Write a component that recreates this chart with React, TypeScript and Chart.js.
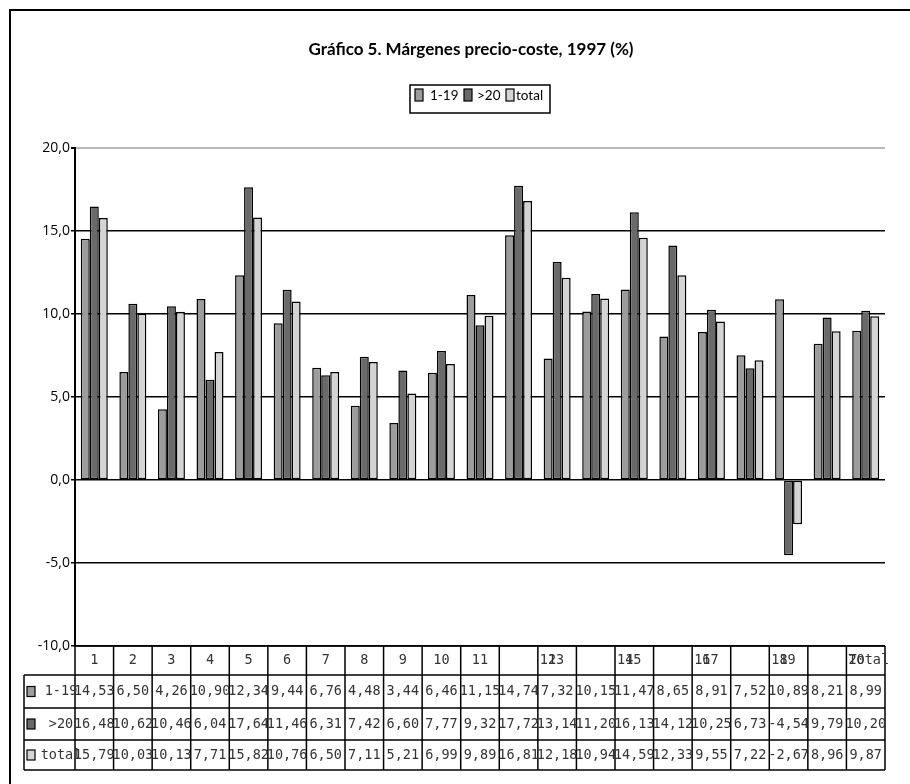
import React, { useEffect, useRef } from "react";
import { Chart, registerables } from "chart.js";

Chart.register(...registerables);

const categories = ["1","2","3","4","5","6","7","8","9","10","11","12","13","14","15","16","17","18","19","20","Total"];
const headerLabels: string[][] = [["1"],["2"],["3"],["4"],["5"],["6"],["7"],["8"],["9"],["10"],["11"],[],["12","13"],[],["14","15"],[],["16","17"],[],["18","19"],[],["20","Total"]];
const seriesNames = ["1-19", ">20", "total"];
const small = [14.53, 6.50, 4.26, 10.90, 12.34, 9.44, 6.76, 4.48, 3.44, 6.46, 11.15, 14.74, 7.32, 10.15, 11.47, 8.65, 8.91, 7.52, 10.89, 8.21, 8.99];
const large = [16.48, 10.62, 10.46, 6.04, 17.64, 11.46, 6.31, 7.42, 6.60, 7.77, 9.32, 17.72, 13.14, 11.20, 16.13, 14.12, 10.25, 6.73, -4.54, 9.79, 10.20];
const total = [15.79, 10.03, 10.13, 7.71, 15.82, 10.76, 6.50, 7.11, 5.21, 6.99, 9.89, 16.81, 12.18, 10.94, 14.59, 12.33, 9.55, 7.22, -2.67, 8.96, 9.87];
const yTicks = [-10, -5, 0, 5, 10, 15, 20];
const titleText = "Gráfico 5. Márgenes precio-coste, 1997 (%)";

const colors = ["#9c9c9c", "#6a6a6a", "#d4d4d4"];
const fmt = (v: number, d: number) => v.toFixed(d).replace(".", ",");

export default function App() {
  const ref = useRef<HTMLCanvasElement | null>(null);
  useEffect(() => {
    document.body.style.margin = "0";
    const canvas = ref.current!;
    const series = [small, large, total];

    const decor = {
      id: "decor",
      beforeDraw(chart: any) {
        const c = chart.ctx;
        c.save();
        c.fillStyle = "#fff";
        c.fillRect(0, 0, chart.width, chart.height);
        c.restore();
      },
      afterDraw(chart: any) {
        const c = chart.ctx as CanvasRenderingContext2D;
        const area = chart.chartArea;
        const x = chart.scales.x;
        c.save();
        // frame
        c.strokeStyle = "#000";
        c.lineWidth = 2;
        c.beginPath();
        c.moveTo(10, chart.height);
        c.lineTo(10, 10);
        c.lineTo(chart.width, 10);
        c.stroke();

        // title
        c.fillStyle = "#000";
        c.font = "bold 17px Lato";
        c.textAlign = "center";
        c.textBaseline = "middle";
        c.fillText(titleText, 471, 50);

        // legend
        c.lineWidth = 1.5;
        c.strokeRect(410, 85, 140, 28);
        c.font = "13.5px Lato";
        c.textAlign = "left";
        const legendX = [415, 464, 506];
        const textX = [430, 477, 516];
        for (let i = 0; i < 3; i++) {
          c.fillStyle = colors[i];
          c.fillRect(legendX[i], 89, 8, 12);
          c.strokeStyle = "#000";
          c.lineWidth = 1.2;
          c.strokeRect(legendX[i], 89, 8, 12);
          c.fillStyle = "#000";
          c.fillText(seriesNames[i], textX[i], 96);
        }

        // data table
        const n = categories.length;
        const w = area.width / n;
        const top = area.bottom;
        const rows = [top, 675, 708, 740, 770];
        const tableLeft = 24;
        c.strokeStyle = "#000";
        c.lineWidth = 1.5;
        c.beginPath();
        c.moveTo(area.left, rows[0]); c.lineTo(area.right, rows[0]);
        for (let r = 1; r < rows.length; r++) {
          c.moveTo(tableLeft, rows[r]); c.lineTo(area.right, rows[r]);
        }
        c.moveTo(tableLeft, rows[1]); c.lineTo(tableLeft, rows[4]);
        c.moveTo(area.left, rows[0]); c.lineTo(area.left, rows[4]);
        for (let i = 0; i < n; i++) {
          const xr = x.getPixelForTick(i) + w / 2;
          c.moveTo(xr, rows[0]); c.lineTo(xr, rows[4]);
        }
        c.stroke();

        c.font = "13.5px 'DejaVu Sans Mono'";
        c.fillStyle = "#333";
        c.textBaseline = "middle";
        const cw = c.measureText("0").width;
        for (let i = 0; i < n; i++) {
          const cx = x.getPixelForTick(i);
          const left = cx - w / 2;
          const labs = headerLabels[i];
          if (labs.length === 1) {
            c.textAlign = "center";
            c.fillText(labs[0], cx, (rows[0] + rows[1]) / 2);
          } else if (labs.length === 2) {
            c.textAlign = "left";
            const off = labs[1].length > 2 ? 0 : cw;
            c.fillText(labs[0], left + 2, (rows[0] + rows[1]) / 2);
            c.fillText(labs[1], left + 2 + off, (rows[0] + rows[1]) / 2);
          }
          c.textAlign = "center";
          for (let s = 0; s < 3; s++) {
            c.fillText(fmt(series[s][i], 2), cx, (rows[s + 1] + rows[s + 2]) / 2);
          }
        }
        for (let s = 0; s < 3; s++) {
          const cy = (rows[s + 1] + rows[s + 2]) / 2;
          c.fillStyle = colors[s];
          c.fillRect(27, cy - 5, 8, 10);
          c.strokeStyle = "#000";
          c.lineWidth = 1.2;
          c.strokeRect(27, cy - 5, 8, 10);
          c.fillStyle = "#333";
          c.textAlign = "center";
          c.fillText(seriesNames[s], 61, cy);
        }
        c.restore();
      },
    };

    const chart = new Chart(canvas, {
      type: "bar",
      data: {
        labels: categories,
        datasets: series.map((d, i) => ({
          label: seriesNames[i],
          data: d,
          backgroundColor: colors[i],
          borderColor: "#000",
          borderWidth: 1.5,
          borderSkipped: false,
          categoryPercentage: 0.7,
          barPercentage: 1.0,
        })),
      },
      options: {
        responsive: false,
        animation: false,
        devicePixelRatio: 1,
        layout: { padding: { left: 0, right: 25, top: 148, bottom: 138 } },
        plugins: { legend: { display: false }, title: { display: false }, tooltip: { enabled: false } },
        scales: {
          x: { display: false },
          y: {
            min: -10,
            max: 20,
            afterFit: (s: any) => { s.width = 75; },
            afterBuildTicks: (s: any) => { s.ticks = yTicks.map((v) => ({ value: v })); },
            ticks: {
              padding: 1,
              color: "#000",
              font: { family: "'Open Sans'", size: 14 },
              callback: (v: any) => fmt(Number(v), 1),
            },
            grid: {
              color: (ctx: any) => (ctx.tick && ctx.tick.value === 20 ? "#b8b8b8" : "#000"),
              lineWidth: (ctx: any) => (ctx.tick && ctx.tick.value === 20 ? 2 : 1.5),
              tickLength: 4,
              tickColor: "#000",
            },
            border: { color: "#000", width: 2 },
          },
        },
      },
      plugins: [decor],
    });
    return () => chart.destroy();
  }, []);
  return <canvas ref={ref} width={910} height={784} style={{ display: "block" }} />;
}
